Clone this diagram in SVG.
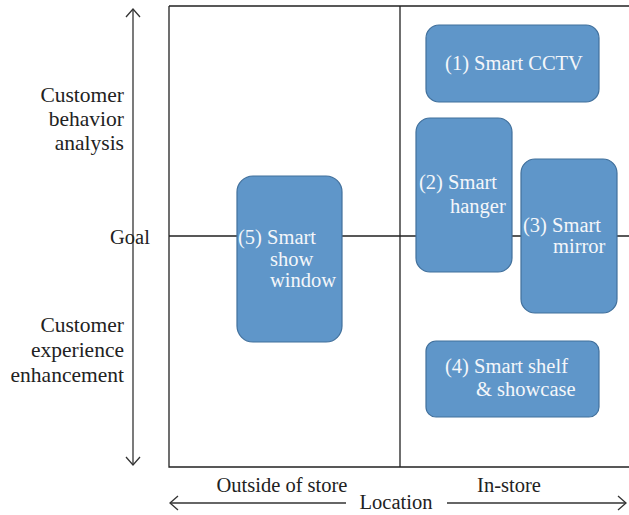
<svg xmlns="http://www.w3.org/2000/svg" width="629" height="515" viewBox="0 0 629 515">
<style>
.ln{stroke:#222;stroke-width:1.3;fill:none}
.ax{stroke:#333;stroke-width:1.3;fill:none}
.lbl{font-family:"Liberation Serif",serif;font-size:20.5px;fill:#222}
.big{font-size:21.5px}
.node rect{fill:#5f96c9;stroke:#41709c;stroke-width:1.2}
.nt{font-family:"Liberation Serif",serif;font-size:20.5px;fill:#f4f6fa}
</style>
<defs>
<marker id="ah" viewBox="0 0 10 16" refX="9" refY="8" markerWidth="10" markerHeight="16" markerUnits="userSpaceOnUse" orient="auto-start-reverse">
<path d="M1,1 L9,8 L1,15" fill="none" stroke="#333" stroke-width="1.3"/>
</marker>
</defs>
<rect width="629" height="515" fill="#fff"/>
<g id="connectors">
<path class="ln" d="M169,6 H629 M169,6 V467 H629 M400,6 V467 M169,236 H629"/>
<path class="ax" d="M133,465 V9" marker-start="url(#ah)" marker-end="url(#ah)"/>
<path class="ax" d="M170,503 H346" marker-start="url(#ah)"/>
<path class="ax" d="M447,503 H626" marker-end="url(#ah)"/>
</g>
<g id="axis-labels">
<text class="lbl big" text-anchor="end" x="124" y="102">Customer</text>
<text class="lbl big" text-anchor="end" x="124" y="126">behavior</text>
<text class="lbl big" text-anchor="end" x="124" y="150">analysis</text>
<text class="lbl" text-anchor="middle" x="130" y="244">Goal</text>
<text class="lbl big" text-anchor="end" x="124" y="332">Customer</text>
<text class="lbl big" text-anchor="end" x="124" y="357">experience</text>
<text class="lbl big" text-anchor="end" x="124" y="382">enhancement</text>
<text class="lbl" text-anchor="middle" x="282" y="492">Outside of store</text>
<text class="lbl" text-anchor="middle" x="509" y="492">In-store</text>
<text class="lbl" text-anchor="middle" x="396" y="509">Location</text>
</g>
<g id="n1" class="node">
<rect x="426" y="25" width="173" height="77" rx="13"/>
<text class="nt" text-anchor="middle" x="514" y="70">(1) Smart CCTV</text>
</g>
<g id="n2" class="node">
<rect x="416" y="118" width="96" height="154" rx="14"/>
<text class="nt" x="419" y="189">(2) Smart</text>
<text class="nt" x="450" y="213">hanger</text>
</g>
<g id="n3" class="node">
<rect x="521" y="159" width="96" height="154" rx="14"/>
<text class="nt" x="523" y="232">(3) Smart</text>
<text class="nt" x="553" y="253">mirror</text>
</g>
<g id="n4" class="node">
<rect x="426" y="341" width="173" height="76" rx="10"/>
<text class="nt" x="445" y="373">(4) Smart shelf</text>
<text class="nt" x="476" y="396">&amp; showcase</text>
</g>
<g id="n5" class="node">
<rect x="237" y="176" width="105" height="166" rx="16"/>
<text class="nt" x="238" y="244">(5) Smart</text>
<text class="nt" x="270" y="266">show</text>
<text class="nt" x="270" y="287">window</text>
</g>
</svg>
